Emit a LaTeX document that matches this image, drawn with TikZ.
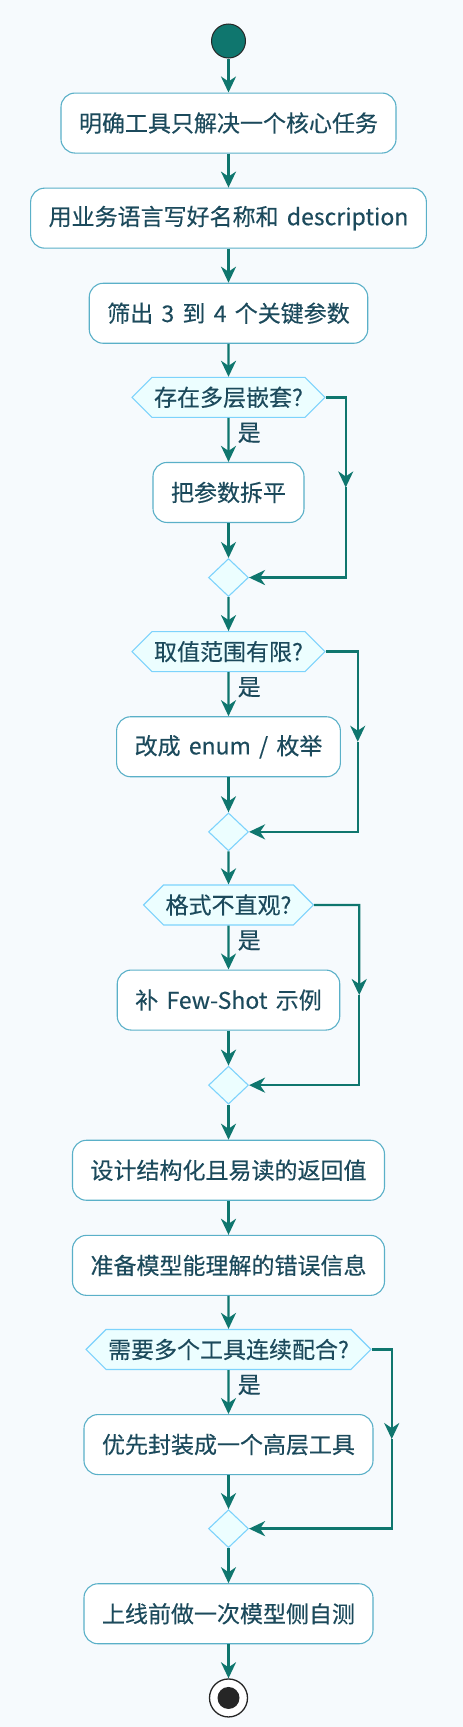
\documentclass[tikz,border=0pt]{standalone}
\usepackage{fontspec}
\setmainfont{Noto Sans CJK SC}[WordSpace=1.6, FakeBold=0.3]
\usepackage{xcolor}
\usepackage{tikz}
\usetikzlibrary{arrows.meta,calc,positioning}
\usetikzlibrary{shapes.geometric,shapes.symbols}
\definecolor{flowteal}{RGB}{15,118,110}
\definecolor{boxline}{RGB}{90,176,200}
\definecolor{hexline}{RGB}{125,211,252}
\definecolor{hexfill}{RGB}{236,254,255}
\definecolor{inktext}{RGB}{28,74,92}
\definecolor{pagebg}{RGB}{246,250,253}

\begin{document}
\begin{tikzpicture}[
            x=1pt, y=-1pt,
            font=\fontsize{23}{27}\selectfont,
            node distance=34pt,
            >={Stealth[length=16pt,width=15pt,inset=5pt]},
            step_box/.style={
                draw=boxline, line width=1.1pt, fill=white,
                rounded corners=14pt, minimum height=60pt,
                inner xsep=18pt, text=inktext
            },
            ask_hex/.style={
                signal, signal to=west and east, signal pointer angle=90,
                draw=hexline, fill=hexfill, line width=1.1pt,
                minimum height=40pt, inner xsep=2pt, text=inktext
            },
            merge_node/.style={
                diamond, draw=hexline, fill=hexfill, line width=1.1pt,
                minimum width=40pt, minimum height=38pt, inner sep=0pt
            },
            arrow_style/.style={->, flowteal, line width=2.4pt},
            yes_label/.style={text=inktext, anchor=west, inner sep=0pt, xshift=8pt}
        ]
        % Page
        \fill[pagebg] (0,0) rectangle (463,1727);
        \useasboundingbox (0,0) rectangle (463,1727);

        % Start
        \node[circle, fill=flowteal, draw=black!85, line width=1pt,
              minimum size=34pt, inner sep=0pt] (start) at (228.5,41) {};

        % Steps and checks
        \node[step_box, below=of start] (s1) {明确工具只解决一个核心任务};
        \node[step_box, below=of s1] (s2) {用业务语言写好名称和 description};
        \node[step_box, below=of s2] (s3) {筛出 3 到 4 个关键参数};
        \node[ask_hex, below=33pt of s3] (q1) {存在多层嵌套?};
        \node[step_box, below=44pt of q1] (y1) {把参数拆平};
        \node[merge_node, below=35pt of y1] (m1) {};
        \node[ask_hex, below=34pt of m1] (q2) {取值范围有限?};
        \node[step_box, below=44pt of q2] (y2) {改成 enum / 枚举};
        \node[merge_node, below=35pt of y2] (m2) {};
        \node[ask_hex, below=33pt of m2] (q3) {格式不直观?};
        \node[step_box, below=44pt of q3] (y3) {补 Few-Shot 示例};
        \node[merge_node, below=35pt of y3] (m3) {};
        \node[step_box, below=35pt of m3] (s4) {设计结构化且易读的返回值};
        \node[step_box, below=of s4] (s5) {准备模型能理解的错误信息};
        \node[ask_hex, below=33pt of s5] (q4) {需要多个工具连续配合?};
        \node[step_box, below=44pt of q4] (y4) {优先封装成一个高层工具};
        \node[merge_node, below=of y4] (m4) {};
        \node[step_box, below=35pt of m4] (s6) {上线前做一次模型侧自测};

        % Stop
        \node[circle, draw=black!85, line width=1.3pt, fill=white,
              minimum size=38pt, inner sep=0pt, below=34pt of s6] (stop) {};
        \node[circle, fill=black!85, minimum size=22pt, inner sep=0pt] (stopdot) at (stop) {};

        % Straight flow
        \draw[arrow_style] (start) -- (s1);
        \foreach \a/\b in {s1/s2, s2/s3, s3/q1, y1/m1, m1/q2, y2/m2, m2/q3,
                           y3/m3, m3/s4, s4/s5, s5/q4, y4/m4, m4/s6, s6/stop}
            \draw[arrow_style] (\a) -- (\b);

        % Yes branches
        \foreach \q/\y in {q1/y1, q2/y2, q3/y3, q4/y4}
            \draw[arrow_style] (\q) -- node[yes_label, pos=0.34] {是} (\y);

        % No branches, round the right side
        \foreach \q/\m/\dx in {q1/m1/20, q2/m2/32, q3/m3/45, q4/m4/20} {
            \draw[arrow_style] (\q.east) -- ++(\dx,0) coordinate (r\q)
                -- ($(r\q)!0.5!(r\q |- \m.east)$);
            \draw[arrow_style] ($(r\q)!0.5!(r\q |- \m.east)$) |- (\m.east);
        }
        \end{tikzpicture}
\end{document}
